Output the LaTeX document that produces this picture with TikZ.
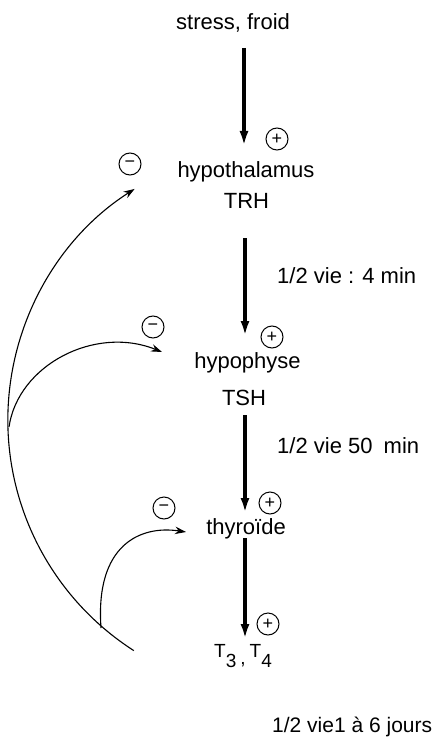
\documentclass[tikz,border=0pt]{standalone}
\usepackage{fontspec}
\setmainfont{Liberation Sans}
\usetikzlibrary{arrows.meta}
\begin{document}
\begin{tikzpicture}[x=1pt,y=1pt,
  lbl/.style={inner sep=0pt, font=\fontsize{22}{22}\selectfont},
  small/.style={inner sep=0pt, font=\fontsize{21}{21}\selectfont},
  mainarrow/.style={line width=3.1pt, -{Latex[length=15pt,width=9pt]}},
  fb/.style={line width=1.1pt, -{Stealth[length=11pt,width=7.5pt]}},
  sign/.style={circle, draw, line width=1pt, minimum size=22pt, inner sep=0pt, font=\fontsize{18}{18}\selectfont}]
\useasboundingbox (0,0) rectangle (446,-738);

% texts
\node[lbl, anchor=base west] (stress) at (176,-30) {stress, froid};
\node[lbl, anchor=base] (hypo) at (246,-178) {hypothalamus};
\node[lbl, anchor=base] (trh) at (246.5,-208) {TRH};
\node[lbl, anchor=base] (hyp) at (247.5,-368) {hypophyse};
\node[lbl, anchor=base] (tsh) at (244,-405) {TSH};
\node[lbl, anchor=base] (thy) at (246,-534) {thyroïde};
\node[inner sep=0pt, anchor=base west, font=\fontsize{19}{19}\selectfont] (t34) at (214,-657)
  {T\raisebox{-10pt}{3}\hspace{4pt}\raisebox{-7pt}{,}\hspace{4pt}T\raisebox{-10pt}{4}};
\node[lbl, anchor=base west] (hl1) at (277,-283) {1/2 vie : 4 min};
\node[lbl, anchor=base west] (hl2) at (277,-453) {1/2 vie 50\hspace{5pt} min};
\node[small, anchor=base west] (hl3) at (272,-732) {1/2 vie1 à 6 jours};

% signs
\node[sign] (p1) at (277,-139) {+};
\node[sign] (p2) at (272,-337) {+};
\node[sign] (p3) at (270,-503) {+};
\node[sign] (p4) at (268,-624) {+};
\node[sign] (m1) at (130,-164) {−};
\node[sign] (m2) at (153,-327) {−};
\node[sign] (m3) at (164,-508) {−};

% main arrows
\coordinate (a1s) at (244,-48);  \coordinate (a1e) at (244,-146);
\coordinate (a2s) at (245,-238); \coordinate (a2e) at (245,-336);
\coordinate (a3s) at (245,-415); \coordinate (a3e) at (245,-513);
\coordinate (a4s) at (245,-538); \coordinate (a4e) at (245,-639);
\draw[mainarrow] (a1s) -- (a1e);
\draw[mainarrow] (a2s) -- (a2e);
\draw[mainarrow] (a3s) -- (a3e);
\draw[mainarrow] (a4s) -- (a4e);

% feedback curves
\coordinate (bigstart) at (133.8,-650.6);
\draw[fb] (bigstart) arc[start angle=237.3, end angle=122.5, radius=274];
\coordinate (midstart) at (9,-427);
\coordinate (midend) at (162,-352);
\draw[fb] (midstart) .. controls (18,-365) and (95,-325) .. (midend);
\coordinate (smallstart) at (101,-628);
\coordinate (smallend) at (186,-532);
\draw[fb] (smallstart) .. controls (95,-545) and (140,-525) .. (smallend);
\end{tikzpicture}
\end{document}
